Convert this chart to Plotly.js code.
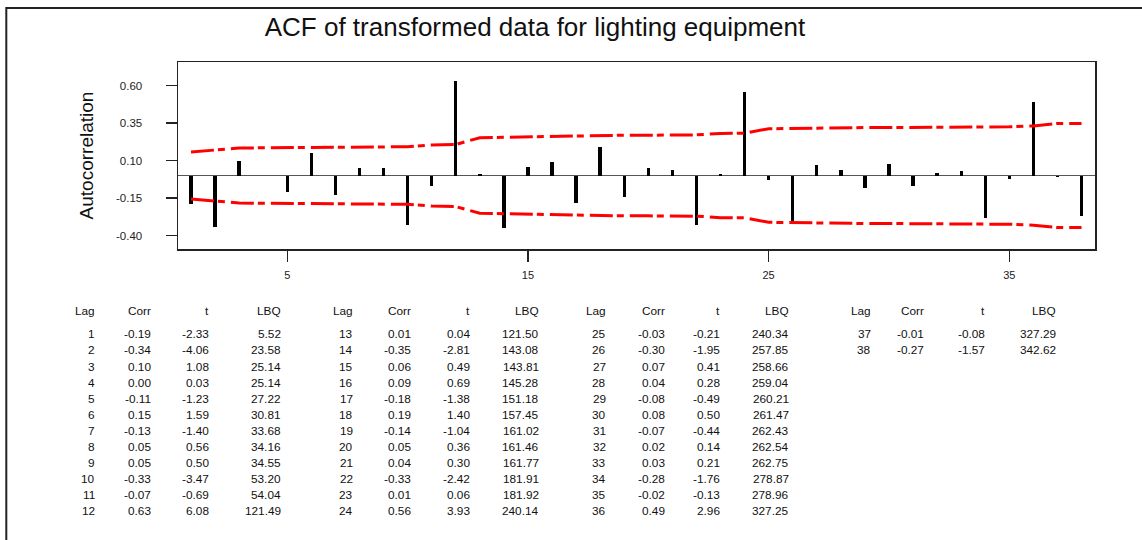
<!DOCTYPE html>
<html>
<head>
<meta charset="utf-8">
<script src="https://cdn.plot.ly/plotly-3.0.1.min.js"></script>
<style>
  html, body { margin: 0; padding: 0; background: #fff; }
  #chart { width: 1142px; height: 540px; }
</style>
</head>
<body>
<div id="chart"></div>
<script>
// ---- Data ----
const lags = [1,2,3,4,5,6,7,8,9,10,11,12,13,14,15,16,17,18,19,20,21,22,23,24,25,26,27,28,29,30,31,32,33,34,35,36,37,38];
const corr = [-0.19,-0.34,0.10,0.00,-0.11,0.15,-0.13,0.05,0.05,-0.33,-0.07,0.63,
              0.01,-0.35,0.06,0.09,-0.18,0.19,-0.14,0.05,0.04,-0.33,0.01,0.56,
              -0.03,-0.30,0.07,0.04,-0.08,0.08,-0.07,0.02,0.03,-0.28,-0.02,0.49,
              -0.01,-0.27];
const tStat = [-2.33,-4.06,1.08,0.03,-1.23,1.59,-1.40,0.56,0.50,-3.47,-0.69,6.08,
               0.04,-2.81,0.49,0.69,-1.38,1.40,-1.04,0.36,0.30,-2.42,0.06,3.93,
               -0.21,-1.95,0.41,0.28,-0.49,0.50,-0.44,0.14,0.21,-1.76,-0.13,2.96,
               -0.08,-1.57];
const lbq = [5.52,23.58,25.14,25.14,27.22,30.81,33.68,34.16,34.55,53.20,54.04,121.49,
             121.50,143.08,143.81,145.28,151.18,157.45,161.02,161.46,161.77,181.91,181.92,240.14,
             240.34,257.85,258.66,259.04,260.21,261.47,262.43,262.54,262.75,278.87,278.96,327.25,
             327.29,342.62];
const upperLimit = [0.157,0.168,0.183,0.185,0.186,0.186,0.188,0.190,0.190,0.192,0.204,0.207,
                    0.252,0.255,0.261,0.263,0.267,0.269,0.269,0.269,0.269,0.271,0.281,0.282,
                    0.312,0.315,0.319,0.320,0.320,0.320,0.320,0.320,0.320,0.320,0.325,0.331,
                    0.347,0.347];
const lowerLimit = [-0.157,-0.168,-0.183,-0.185,-0.186,-0.186,-0.188,-0.190,-0.190,-0.192,-0.204,-0.207,
                    -0.252,-0.255,-0.261,-0.263,-0.267,-0.269,-0.269,-0.269,-0.269,-0.271,-0.281,-0.282,
                    -0.312,-0.315,-0.319,-0.320,-0.320,-0.320,-0.320,-0.320,-0.320,-0.320,-0.325,-0.331,
                    -0.347,-0.347];
const yTickVals = [0.60, 0.35, 0.10, -0.15, -0.40];
const yTickText = ['0.60', '0.35', '0.10', '-0.15', '-0.40'];
const xTickVals = [5, 15, 25, 35];
const tableHeaders = ['Lag', 'Corr', 't', 'LBQ'];
const titleText = 'ACF of transformed data for lighting equipment';

// ---- Layout geometry (pixels) ----
const W = 1142, H = 540;
const PL = 178, PR = 1095, PT = 62, PB = 249;
const FONT = 'Liberation Sans, Arial, sans-serif';
const px2x = p => (p - PL) / (PR - PL);
const py2y = p => (PB - p) / (PB - PT);

const traces = [
  {
    type: 'bar', x: lags, y: corr, width: 0.14,
    marker: { color: '#000', line: { width: 0 } },
    hoverinfo: 'x+y', showlegend: false
  },
  {
    type: 'scatter', mode: 'lines', x: lags, y: upperLimit,
    line: { color: '#ff0000', width: 3, dash: '23px,4px,7px,6px' },
    showlegend: false, hoverinfo: 'skip'
  },
  {
    type: 'scatter', mode: 'lines', x: lags, y: lowerLimit,
    line: { color: '#ff0000', width: 3, dash: '23px,4px,7px,6px' },
    showlegend: false, hoverinfo: 'skip'
  }
];

// ---- Table annotations ----
const blockCols = [
  [97, 153, 211, 283],
  [355, 413, 472, 541],
  [608, 667, 722, 791],
  [873, 926, 987, 1058]
];
const headerY = 311;
const row0Y = 334.3, rowStep = 16.1;
const annotations = [];
const tfont = { family: FONT, size: 11.8, color: '#111' };
blockCols.forEach((cols, b) => {
  tableHeaders.forEach((h, c) => {
    annotations.push({
      xref: 'paper', yref: 'paper', x: px2x(cols[c]), y: py2y(headerY),
      xanchor: 'right', yanchor: 'middle', text: h, showarrow: false, font: tfont
    });
  });
  for (let i = 0; i < 12; i++) {
    const k = b * 12 + i;
    if (k >= lags.length) break;
    const vals = [String(lags[k]), corr[k].toFixed(2), tStat[k].toFixed(2), lbq[k].toFixed(2)];
    vals.forEach((v, c) => {
      annotations.push({
        xref: 'paper', yref: 'paper', x: px2x(cols[c]), y: py2y(row0Y + i * rowStep),
        xanchor: 'right', yanchor: 'middle', text: v, showarrow: false, font: tfont
      });
    });
  }
});

const layout = {
  width: W, height: H,
  margin: { l: PL, r: W - PR, t: PT, b: H - PB, pad: 0 },
  paper_bgcolor: '#fff', plot_bgcolor: '#fff',
  font: { family: FONT, color: '#111' },
  title: {
    text: titleText,
    font: { family: FONT, size: 26, color: '#111' },
    xref: 'container', x: 535 / W, xanchor: 'center',
    yref: 'container', y: 1 - 27 / H, yanchor: 'middle'
  },
  bargap: 0,
  xaxis: {
    range: [0.46, 38.56],
    tickmode: 'array', tickvals: xTickVals, ticktext: xTickVals.map(String),
    ticks: 'outside', ticklen: 11, tickwidth: 1.2, tickcolor: '#222',
    ticklabelstandoff: 4,
    tickfont: { family: FONT, size: 11, color: '#222' },
    showgrid: false, zeroline: false,
    showline: true, mirror: true, linecolor: '#222', linewidth: 1.5
  },
  yaxis: {
    range: [-0.49, 0.757],
    tickmode: 'array', tickvals: yTickVals, ticktext: yTickText,
    ticks: 'outside', ticklen: 11, tickwidth: 1.2, tickcolor: '#222',
    ticklabelstandoff: 21,
    tickfont: { family: FONT, size: 11.5, color: '#222' },
    showgrid: false,
    zeroline: true, zerolinecolor: '#555', zerolinewidth: 1.5,
    showline: true, mirror: true, linecolor: '#222', linewidth: 1.5,
    title: { text: 'Autocorrelation', font: { family: FONT, size: 19, color: '#111' }, standoff: 17 }
  },
  shapes: [
    {
      type: 'rect', xref: 'paper', yref: 'paper',
      x0: px2x(6.3), x1: px2x(1160), y0: py2y(8), y1: py2y(560),
      line: { color: '#222', width: 2 }, fillcolor: 'rgba(0,0,0,0)', layer: 'below'
    }
  ],
  annotations: annotations
};

Plotly.newPlot('chart', traces, layout, { displayModeBar: false, staticPlot: true });
</script>
</body>
</html>
